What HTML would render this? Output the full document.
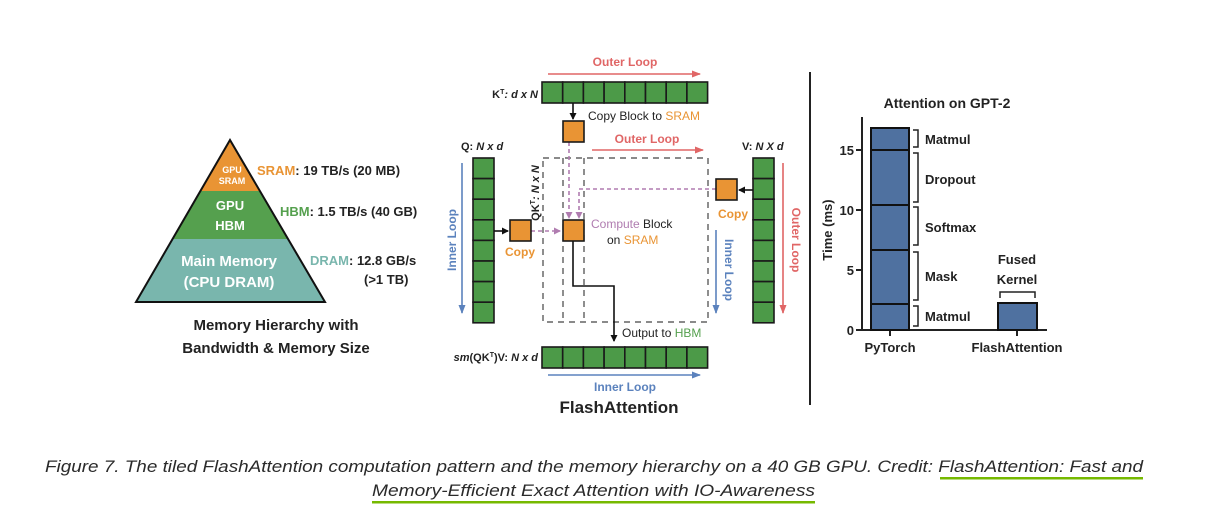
<!DOCTYPE html>
<html><head><meta charset="utf-8"><style>
html,body{margin:0;padding:0;background:#fff;}
svg{display:block;font-family:"Liberation Sans",sans-serif;}
</style></head><body>
<svg width="1209" height="525" viewBox="0 0 1209 525" xmlns="http://www.w3.org/2000/svg">
<defs>
<marker id="ab" markerWidth="8" markerHeight="8" refX="6" refY="4" orient="auto" markerUnits="userSpaceOnUse"><path d="M0,0.5 L7,4 L0,7.5z" fill="#111"/></marker>
<marker id="ar" markerWidth="10" markerHeight="8" refX="8" refY="4" orient="auto" markerUnits="userSpaceOnUse"><path d="M0,0.5 L9,4 L0,7.5z" fill="#e06666"/></marker>
<marker id="au" markerWidth="10" markerHeight="8" refX="8" refY="4" orient="auto" markerUnits="userSpaceOnUse"><path d="M0,0.5 L9,4 L0,7.5z" fill="#5b82bd"/></marker>
<marker id="ap" markerWidth="8" markerHeight="8" refX="6" refY="4" orient="auto" markerUnits="userSpaceOnUse"><path d="M0,0.5 L7,4 L0,7.5z" fill="#b07cb0"/></marker>
</defs>

<polygon points="200,191 260,191 230,140" fill="#e99434"/>
<polygon points="172,239 288,239 260,191 200,191" fill="#55a04e"/>
<polygon points="136,302 325,302 288,239 172,239" fill="#79b6ad"/>
<polygon points="136,302 325,302 230,140" fill="none" stroke="#111" stroke-width="2"/>
<g fill="#fff" text-anchor="middle" font-weight="bold">
<text x="232" y="173" font-size="9">GPU</text>
<text x="232" y="184" font-size="9">SRAM</text>
<text x="230" y="210" font-size="13">GPU</text>
<text x="230" y="230" font-size="13">HBM</text>
<text x="229" y="266" font-size="15">Main Memory</text>
<text x="229" y="287" font-size="15">(CPU DRAM)</text>
</g>
<g font-size="13" font-weight="bold" fill="#222">
<text x="257" y="175"><tspan fill="#e99434">SRAM</tspan>: 19 TB/s (20 MB)</text>
<text x="280" y="216"><tspan fill="#55a04e">HBM</tspan>: 1.5 TB/s (40 GB)</text>
<text x="310" y="265"><tspan fill="#79b6ad">DRAM</tspan>: 12.8 GB/s</text>
<text x="364" y="284">(&gt;1 TB)</text>
</g>
<g font-size="15" font-weight="bold" fill="#222" text-anchor="middle">
<text x="276" y="330">Memory Hierarchy with</text>
<text x="276" y="353">Bandwidth &amp; Memory Size</text>
</g>

<text x="625" y="66" font-size="12" font-weight="bold" fill="#e06666" text-anchor="middle">Outer Loop</text>
<line x1="548" y1="74" x2="700" y2="74" stroke="#e06666" stroke-width="1.6" marker-end="url(#ar)"/>
<text x="538" y="98" font-size="11" font-weight="bold" fill="#222" text-anchor="end">K<tspan font-size="7" dy="-4">T</tspan><tspan dy="4" font-style="italic">: d x N</tspan></text>
<g fill="#4c9a48" stroke="#1a1a1a" stroke-width="1.6">
<rect x="542" y="82" width="20.7" height="21"/><rect x="562.7" y="82" width="20.7" height="21"/><rect x="583.4" y="82" width="20.7" height="21"/><rect x="604.1" y="82" width="20.7" height="21"/><rect x="624.8" y="82" width="20.7" height="21"/><rect x="645.5" y="82" width="20.7" height="21"/><rect x="666.2" y="82" width="20.7" height="21"/><rect x="686.9" y="82" width="20.7" height="21"/>
<rect x="542" y="347" width="20.7" height="21"/><rect x="562.7" y="347" width="20.7" height="21"/><rect x="583.4" y="347" width="20.7" height="21"/><rect x="604.1" y="347" width="20.7" height="21"/><rect x="624.8" y="347" width="20.7" height="21"/><rect x="645.5" y="347" width="20.7" height="21"/><rect x="666.2" y="347" width="20.7" height="21"/><rect x="686.9" y="347" width="20.7" height="21"/>
<rect x="473" y="158" width="21" height="20.6"/><rect x="473" y="178.6" width="21" height="20.6"/><rect x="473" y="199.2" width="21" height="20.6"/><rect x="473" y="219.8" width="21" height="20.6"/><rect x="473" y="240.4" width="21" height="20.6"/><rect x="473" y="261" width="21" height="20.6"/><rect x="473" y="281.6" width="21" height="20.6"/><rect x="473" y="302.2" width="21" height="20.6"/>
<rect x="753" y="158" width="21" height="20.6"/><rect x="753" y="178.6" width="21" height="20.6"/><rect x="753" y="199.2" width="21" height="20.6"/><rect x="753" y="219.8" width="21" height="20.6"/><rect x="753" y="240.4" width="21" height="20.6"/><rect x="753" y="261" width="21" height="20.6"/><rect x="753" y="281.6" width="21" height="20.6"/><rect x="753" y="302.2" width="21" height="20.6"/>
</g>
<line x1="573" y1="103" x2="573" y2="119" stroke="#111" stroke-width="1.6" marker-end="url(#ab)"/>
<text x="588" y="120" font-size="12" fill="#222">Copy Block to <tspan fill="#e99434">SRAM</tspan></text>
<text x="647" y="143" font-size="12" font-weight="bold" fill="#e06666" text-anchor="middle">Outer Loop</text>
<line x1="592" y1="150" x2="703" y2="150" stroke="#e06666" stroke-width="1.6" marker-end="url(#ar)"/>
<text x="461" y="150" font-size="11" font-weight="bold" fill="#222">Q: <tspan font-style="italic">N x d</tspan></text>
<text x="742" y="150" font-size="11" font-weight="bold" fill="#222">V: <tspan font-style="italic">N X d</tspan></text>
<g fill="none" stroke="#444" stroke-width="1.2" stroke-dasharray="6,5">
<rect x="543" y="158" width="165" height="164"/>
<line x1="563" y1="158" x2="563" y2="322"/><line x1="584" y1="158" x2="584" y2="322"/>
</g>
<text transform="translate(539,193) rotate(-90)" font-size="11" font-weight="bold" fill="#222" text-anchor="middle">QK<tspan font-size="7" dy="-4">T</tspan><tspan dy="4" font-style="italic">: N x N</tspan></text>
<line x1="462" y1="163" x2="462" y2="313" stroke="#5b82bd" stroke-width="1.6" marker-end="url(#au)"/>
<text transform="translate(456,240) rotate(-90)" font-size="12" font-weight="bold" fill="#5b82bd" text-anchor="middle">Inner Loop</text>
<g stroke="#b07cb0" stroke-width="1.6" stroke-dasharray="4,3" fill="none">
<line x1="531" y1="231" x2="560" y2="231" marker-end="url(#ap)"/>
<line x1="569" y1="142" x2="569" y2="218" marker-end="url(#ap)"/>
<polyline points="716,189 579,189 579,218" marker-end="url(#ap)"/>
</g>
<line x1="494" y1="231" x2="508" y2="231" stroke="#111" stroke-width="1.6" marker-end="url(#ab)"/>
<line x1="753" y1="190" x2="739" y2="190" stroke="#111" stroke-width="1.6" marker-end="url(#ab)"/>
<g fill="#e99434" stroke="#1a1a1a" stroke-width="1.6">
<rect x="563" y="121" width="21" height="21"/>
<rect x="510" y="220" width="21" height="21"/>
<rect x="563" y="220" width="21" height="21"/>
<rect x="716" y="179" width="21" height="21"/>
</g>
<text x="505" y="256" font-size="12" font-weight="bold" fill="#e99434">Copy</text>
<text x="718" y="218" font-size="12" font-weight="bold" fill="#e99434">Copy</text>
<text x="591" y="228" font-size="12" fill="#222"><tspan fill="#b07cb0">Compute</tspan> Block</text>
<text x="607" y="244" font-size="12" fill="#222">on <tspan fill="#e99434">SRAM</tspan></text>
<polyline points="573,241 573,286 614,286 614,341" fill="none" stroke="#111" stroke-width="1.6" marker-end="url(#ab)"/>
<text x="622" y="337" font-size="12" fill="#222">Output to <tspan fill="#55a04e">HBM</tspan></text>
<line x1="716" y1="230" x2="716" y2="313" stroke="#5b82bd" stroke-width="1.6" marker-end="url(#au)"/>
<text transform="translate(725,270) rotate(90)" font-size="12" font-weight="bold" fill="#5b82bd" text-anchor="middle">Inner Loop</text>
<line x1="783" y1="163" x2="783" y2="313" stroke="#e06666" stroke-width="1.6" marker-end="url(#ar)"/>
<text transform="translate(792,240) rotate(90)" font-size="12" font-weight="bold" fill="#e06666" text-anchor="middle">Outer Loop</text>
<text x="538" y="361" font-size="11" font-weight="bold" fill="#222" text-anchor="end"><tspan font-style="italic">sm</tspan>(QK<tspan font-size="7" dy="-4">T</tspan><tspan dy="4">)V: </tspan><tspan font-style="italic">N x d</tspan></text>
<line x1="548" y1="375" x2="700" y2="375" stroke="#5b82bd" stroke-width="1.6" marker-end="url(#au)"/>
<text x="625" y="391" font-size="12" font-weight="bold" fill="#5b82bd" text-anchor="middle">Inner Loop</text>
<text x="619" y="413" font-size="17" font-weight="bold" fill="#222" text-anchor="middle">FlashAttention</text>

<line x1="810" y1="72" x2="810" y2="405" stroke="#222" stroke-width="2"/>

<text x="947" y="108" font-size="14" font-weight="bold" fill="#222" text-anchor="middle">Attention on GPT-2</text>
<g stroke="#222" stroke-width="2">
<line x1="862" y1="117" x2="862" y2="331"/>
<line x1="861" y1="330" x2="1047" y2="330"/>
<line x1="856" y1="150" x2="862" y2="150"/><line x1="856" y1="210" x2="862" y2="210"/><line x1="856" y1="270" x2="862" y2="270"/><line x1="856" y1="330" x2="862" y2="330"/>
<line x1="890" y1="330" x2="890" y2="336"/><line x1="1017" y1="330" x2="1017" y2="336"/>
</g>
<g font-size="13" font-weight="bold" fill="#222" text-anchor="end">
<text x="854" y="155">15</text><text x="854" y="215">10</text><text x="854" y="275">5</text><text x="854" y="335">0</text>
</g>
<text transform="translate(832,230) rotate(-90)" font-size="13" font-weight="bold" fill="#222" text-anchor="middle">Time (ms)</text>
<rect x="871" y="128" width="38" height="202" fill="#4f71a0" stroke="#111" stroke-width="2"/>
<g stroke="#111" stroke-width="2"><line x1="871" y1="150" x2="909" y2="150"/><line x1="871" y1="205" x2="909" y2="205"/><line x1="871" y1="250" x2="909" y2="250"/><line x1="871" y1="304" x2="909" y2="304"/></g>
<rect x="998" y="303" width="39" height="27" fill="#4f71a0" stroke="#111" stroke-width="2"/>
<g fill="none" stroke="#222" stroke-width="1.5">
<polyline points="913,130 918,130 918,147 913,147"/>
<polyline points="913,153 918,153 918,202 913,202"/>
<polyline points="913,207 918,207 918,245 913,245"/>
<polyline points="913,252 918,252 918,300 913,300"/>
<polyline points="913,306 918,306 918,326 913,326"/>
<polyline points="1000,298 1000,292 1035,292 1035,298"/>
</g>
<g font-size="13" font-weight="bold" fill="#222">
<text x="925" y="144">Matmul</text><text x="925" y="184">Dropout</text><text x="925" y="232">Softmax</text><text x="925" y="281">Mask</text><text x="925" y="321">Matmul</text>
</g>
<g font-size="13" font-weight="bold" fill="#222" text-anchor="middle">
<text x="1017" y="264">Fused</text><text x="1017" y="284">Kernel</text>
<text x="890" y="352">PyTorch</text><text x="1017" y="352">FlashAttention</text>
</g>

<g font-size="17" font-style="italic" fill="#2a2a2a">
<text x="45" y="472" textLength="1098" lengthAdjust="spacingAndGlyphs">Figure 7. The tiled FlashAttention computation pattern and the memory hierarchy on a 40 GB GPU. Credit: FlashAttention: Fast and</text>
<text x="372" y="496" textLength="443" lengthAdjust="spacingAndGlyphs">Memory-Efficient Exact Attention with IO-Awareness</text>
</g>
<rect x="940" y="477" width="203" height="2.5" fill="#76b900"/>
<rect x="372" y="501" width="443" height="2.5" fill="#76b900"/>
</svg>
</body></html>
